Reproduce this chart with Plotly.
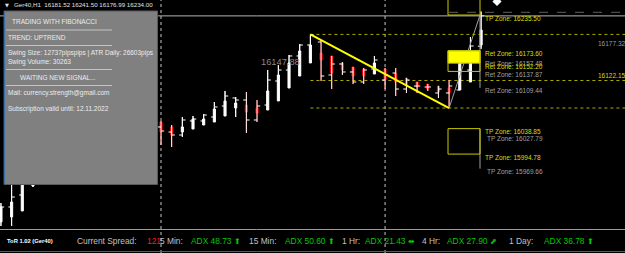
import plotly.graph_objects as go

W, H = 625, 253

# ---------------- data (prices) ----------------
bar_idx = [-15, -14, -13, -12, 0, 1, 2, 3, 4, 5, 6, 7, 8, 9, 10, 11, 12, 13, 14,
           15, 16, 17, 18, 19, 20, 21, 22, 23, 24, 25, 26, 27, 28, 29, 30]
bar_high = [15910.1, 15943.0, 15953.4, 15967.2, 16052.1, 16045.1, 16059.0, 16060.7, 16064.2, 16084.9,
            16104.0, 16093.6, 16102.2, 16088.4, 16140.3, 16149.0, 16166.3, 16185.3, 16201.9,
            16192.3, 16164.6, 16154.2, 16145.5, 16143.8, 16164.6, 16143.8, 16143.8, 16126.5, 16119.6,
            16116.1, 16112.6, 16123.0, 16166.3, 16197.5, 16241.50]
bar_low = [15870.3, 15870.3, 15896.3, 15937.8, 16010.5, 16007.0, 16024.4, 16038.2, 16045.1, 16050.3,
           16060.7, 16059.0, 16031.3, 16050.3, 16071.1, 16086.7, 16109.2, 16129.9, 16152.5,
           16121.3, 16107.4, 16131.7, 16116.1, 16116.1, 16133.4, 16107.4, 16095.3, 16100.5, 16100.5,
           16104.0, 16091.9, 16074.5, 16105.7, 16119.6, 16176.99]
bar_open = [15884.1, 15903.2, 15924.0, 15944.7, 16041.7, 16033.0, 16027.8, 16052.1, 16052.1, 16059.0,
            16078.0, 16091.9, 16088.4, 16053.8, 16079.7, 16121.3, 16140.3, 16164.6, 16183.6,
            16188.8, 16131.7, 16150.7, 16136.9, 16119.6, 16142.1, 16123.0, 16135.1, 16107.4, 16112.6,
            16110.9, 16100.5, 16100.5, 16105.7, 16140.3, 16181.52]
bar_close = [15903.2, 15920.5, 15946.5, 15962.0, 16034.7, 16027.8, 16053.8, 16055.5, 16062.4, 16076.3,
             16095.3, 16088.4, 16053.8, 16078.0, 16123.0, 16140.3, 16164.6, 16183.6, 16200.9,
             16129.9, 16150.7, 16136.9, 16119.6, 16140.3, 16157.6, 16131.7, 16107.4, 16123.0, 16112.6,
             16110.9, 16107.4, 16112.6, 16152.5, 16181.9, 16234.00]
ha_open = [15877.2, 15885.9, 15896.3, 15939.5, 16050.3, 16041.7, 16033.0, 16038.2, 16045.1, 16050.3,
           16060.7, 16074.6, 16079.7, 16074.6, 16071.1, 16086.7, 16109.2, 16129.9, 16152.5,
           16169.8, 16164.6, 16152.5, 16145.5, 16142.1, 16133.4, 16142.1, 16135.1, 16126.5, 16119.6,
           16116.1, 16112.6, 16109.2, 16105.7, 16119.6, 16183.6]
ha_close = [15903.2, 15911.8, 15946.5, 15956.8, 16033.0, 16027.8, 16041.7, 16055.5, 16055.5, 16072.8,
            16086.7, 16083.2, 16067.6, 16065.9, 16104.0, 16131.7, 16152.5, 16173.2, 16183.6,
            16157.6, 16135.1, 16140.3, 16129.9, 16129.9, 16152.5, 16123.0, 16119.6, 16114.4, 16110.9,
            16107.4, 16102.2, 16100.5, 16154.2, 16171.5, 16209.6]

separators = [0, 21]
swing_bars = [14, 27]
swing_prices = [16201.9, 16074.5]
fib_dotted = [16201.9, 16122.15, 16074.5]
bid_price = 16234.00
top_dash_price = 16240.2

tp_yellow = [16235.50, 16038.85, 15994.78]
tp_gray = [16027.79, 15969.66]
ret_yellow = [16173.60, 16152.20]
ret_gray = [16157.48, 16137.87, 16109.44]
right_labels = [("16177.32", 16177.32, "#9a9a9a"), ("16122.15", 16122.15, "#d8d800")]
mid_label = ("16147.88", 9.2, 16147.88)

title_text = "Ger40,H1  16181.52 16241.50 16176.99 16234.00"
panel_lines = ["TRADING WITH FIBONACCI", "TREND: UPTREND",
               "Swing Size: 12737pipspips | ATR Daily: 26603pips", "Swing Volume: 30263",
               "WAITING NEW SIGNAL...", "Mail: currency.strength@gmail.com",
               "Subscription valid until: 12.11.2022"]

bottom_items = [("ToR 1.02 (Ger40)", "#ffffff"), ("Current Spread:", "#c0c0c0"), ("121", "#ff1a1a"),
                ("5 Min:", "#c0c0c0"), ("ADX 48.73 ⬆", "#00c800"), ("15 Min:", "#c0c0c0"),
                ("ADX 50.60 ⬆", "#00c800"), ("1 Hr:", "#c0c0c0"), ("ADX 21.43 ⬌", "#00c800"),
                ("4 Hr:", "#c0c0c0"), ("ADX 27.90 ⬈", "#00c800"), ("1 Day:", "#c0c0c0"),
                ("ADX 36.78 ⬆", "#00c800")]

# ---------------- geometry helpers (layout only) ----------------
def px(x):
    return x / W


def py(y):
    return 1 - y / H


CHART_BOTTOM = 229
BAR_DX = 10.67
X0_PIX = 161
P_TOP = 16261.5
P_PER_PIX = 1.731


def xr(pix):
    return (pix - X0_PIX) / BAR_DX


FONT = "Liberation Sans, Arial, sans-serif"

fig = go.Figure()

# real OHLC bars (white ticks)
fig.add_trace(go.Ohlc(x=bar_idx, open=bar_open, high=bar_high, low=bar_low, close=bar_close,
                      increasing=dict(line=dict(color="#ffffff", width=1)),
                      decreasing=dict(line=dict(color="#ffffff", width=1)),
                      tickwidth=0.3, hoverinfo="skip"))
# Heiken Ashi candles
fig.add_trace(go.Candlestick(x=bar_idx, open=ha_open, high=bar_high, low=bar_low, close=ha_close,
                             increasing=dict(line=dict(color="#ffffff", width=1), fillcolor="#ffffff"),
                             decreasing=dict(line=dict(color="#ff0000", width=1), fillcolor="#ff0000"),
                             whiskerwidth=0, hoverinfo="skip"))

# yellow swing line
fig.add_trace(go.Scatter(x=swing_bars, y=swing_prices, mode="lines",
                         line=dict(color="#ffff00", width=2), hoverinfo="skip"))
# gray projection line
fig.add_trace(go.Scatter(x=[swing_bars[1], xr(480)], y=[swing_prices[1], tp_yellow[0]], mode="lines",
                         line=dict(color="#a0a0a0", width=1), hoverinfo="skip"))
# gray verticals at the zone edge
fig.add_trace(go.Scatter(x=[xr(480), xr(480), None, xr(480), xr(480)],
                         y=[tp_yellow[0], ret_gray[2], None, tp_yellow[1], tp_gray[1]], mode="lines",
                         line=dict(color="#a0a0a0", width=1), hoverinfo="skip"))
# white marker at top
fig.add_trace(go.Scatter(x=[xr(497)], y=[P_TOP - 1.5 * P_PER_PIX], mode="markers",
                         marker=dict(symbol="diamond", size=7, color="#ffffff"), hoverinfo="skip"))

shapes = []
# period separators
for s in separators:
    shapes.append(dict(type="line", xref="x", yref="paper", x0=s, x1=s, y0=0, y1=1,
                       line=dict(color="#c8c8c8", width=1, dash="dot"), layer="below"))
# bid line
shapes.append(dict(type="line", xref="paper", yref="y", x0=0, x1=1, y0=bid_price, y1=bid_price,
                   line=dict(color="#b4b4b4", width=1), layer="below"))
shapes.append(dict(type="line", xref="x", yref="y", x0=xr(449), x1=xr(625), y0=top_dash_price,
                   y1=top_dash_price, line=dict(color="#606060", width=1, dash="dash"), layer="below"))
# fib dotted levels
for lv in fib_dotted:
    shapes.append(dict(type="line", xref="x", yref="y", x0=swing_bars[0], x1=xr(625), y0=lv, y1=lv,
                       line=dict(color="#a8a800", width=1, dash="dot"), layer="below"))
# zone boxes
zx0, zx1 = xr(448), xr(480)
shapes.append(dict(type="rect", xref="x", yref="y", x0=zx0, x1=zx1, y0=tp_yellow[0], y1=P_TOP + 20,
                   line=dict(color="#c8c800", width=1)))
shapes.append(dict(type="rect", xref="x", yref="y", x0=zx0, x1=zx1, y0=ret_yellow[1], y1=ret_yellow[0],
                   line=dict(color="#c8c800", width=1), fillcolor="#ffff00"))
shapes.append(dict(type="rect", xref="x", yref="y", x0=zx0, x1=zx1, y0=ret_gray[1], y1=ret_yellow[0],
                   line=dict(color="#c8c800", width=1)))
shapes.append(dict(type="rect", xref="x", yref="y", x0=zx0, x1=zx1, y0=tp_yellow[2], y1=tp_yellow[1],
                   line=dict(color="#c8c800", width=1)))

# info panel
shapes.append(dict(type="rect", xref="paper", yref="paper", x0=px(4), x1=px(157.5), y0=py(184.5), y1=py(11),
                   line=dict(color="#5a5a5a", width=1), fillcolor="#808080", layer="above"))
shapes.append(dict(type="line", xref="paper", yref="paper", x0=px(4.5), x1=px(4.5), y0=py(184), y1=py(11.5),
                   line=dict(color="#3a6ea5", width=1), layer="above"))
for sy in [30, 45.5, 69.5, 85.5]:
    shapes.append(dict(type="line", xref="paper", yref="paper", x0=px(6), x1=px(112), y0=py(sy), y1=py(sy),
                       line=dict(color="#c4c4c4", width=1), layer="above"))

# bottom sub-window borders
shapes.append(dict(type="line", xref="paper", yref="paper", x0=0, x1=1, y0=py(CHART_BOTTOM + 0.5),
                   y1=py(CHART_BOTTOM + 0.5), line=dict(color="#9a9a9a", width=1), layer="above"))
shapes.append(dict(type="line", xref="paper", yref="paper", x0=0, x1=1, y0=py(251.5), y1=py(251.5),
                   line=dict(color="#5a5a5a", width=1), layer="above"))

ann = []
# chart title
ann.append(dict(text="▼", x=px(3), y=py(5), xref="paper", yref="paper", xanchor="left", yanchor="middle",
                showarrow=False, font=dict(family="DejaVu Sans", size=5, color="#e0e0e0")))
ann.append(dict(text=title_text, x=px(11.5), y=py(5), xref="paper", yref="paper", xanchor="left",
                yanchor="middle", showarrow=False, font=dict(family=FONT, size=6.2, color="#e0e0e0")))
# panel texts
panel_pos = [(10, 21.7), (6, 37.3), (6, 53.3), (6, 61.5), (18, 77.3), (6, 93.3), (6, 109.3)]
for t, (xx, yy) in zip(panel_lines, panel_pos):
    ann.append(dict(text=t, x=px(xx), y=py(yy), xref="paper", yref="paper", xanchor="left", yanchor="middle",
                    showarrow=False, font=dict(family=FONT, size=6.5, color="#ececec")))

# zone labels
for lv in tp_yellow:
    ann.append(dict(text=f"TP Zone: {lv:.2f}", x=xr(483), y=lv, xref="x", yref="y", xanchor="left",
                    yanchor="middle", yshift=-3, showarrow=False, font=dict(family=FONT, size=6.5, color="#dede00")))
for lv in ret_yellow:
    ann.append(dict(text=f"Ret Zone: {lv:.2f}", x=xr(483), y=lv, xref="x", yref="y", xanchor="left",
                    yanchor="middle", yshift=-3, showarrow=False, font=dict(family=FONT, size=6.5, color="#dede00")))
for lv in tp_gray:
    ann.append(dict(text=f"TP Zone: {lv:.2f}", x=xr(485), y=lv, xref="x", yref="y", xanchor="left",
                    yanchor="middle", yshift=-3, showarrow=False, font=dict(family=FONT, size=6.5, color="#a0a0a0")))
for lv in ret_gray:
    ann.append(dict(text=f"Ret Zone: {lv:.2f}", x=xr(483), y=lv, xref="x", yref="y", xanchor="left",
                    yanchor="middle", yshift=-3, showarrow=False, font=dict(family=FONT, size=6.5, color="#a0a0a0")))
for t, lv, c in right_labels:
    ann.append(dict(text=t, x=xr(596), y=lv, xref="x", yref="y", xanchor="left", yanchor="middle", yshift=5,
                    showarrow=False, font=dict(family=FONT, size=6.5, color=c)))
ann.append(dict(text=mid_label[0], x=mid_label[1], y=mid_label[2], xref="x", yref="y", xanchor="left",
                yanchor="middle", yshift=4, showarrow=False, font=dict(family=FONT, size=9.3, color="#8a8a8a")))

# bottom bar
bottom_x = [4.5, 75, 145, 158, 189, 247, 283, 340, 363, 420, 445, 507, 542]
for (t, c), xx in zip(bottom_items, bottom_x):
    big = t != "ToR 1.02 (Ger40)"
    ann.append(dict(text=(t if big else f"<b>{t}</b>"), x=px(xx), y=py(240.5), xref="paper", yref="paper",
                    xanchor="left", yanchor="middle", showarrow=False,
                    font=dict(family=FONT, size=(8.4 if big else 5.8), color=c)))

y_lo = P_TOP - P_PER_PIX * CHART_BOTTOM
fig.update_layout(
    width=W, height=H, margin=dict(l=0, r=0, t=0, b=0),
    paper_bgcolor="#000000", plot_bgcolor="#000000", showlegend=False,
    boxgap=0.72,
    xaxis=dict(range=[xr(0), xr(W)], visible=False, rangeslider=dict(visible=False), domain=[0, 1]),
    yaxis=dict(range=[y_lo, P_TOP], visible=False, domain=[py(CHART_BOTTOM), 1]),
    shapes=shapes, annotations=ann,
)
fig.write_html("out.html")
